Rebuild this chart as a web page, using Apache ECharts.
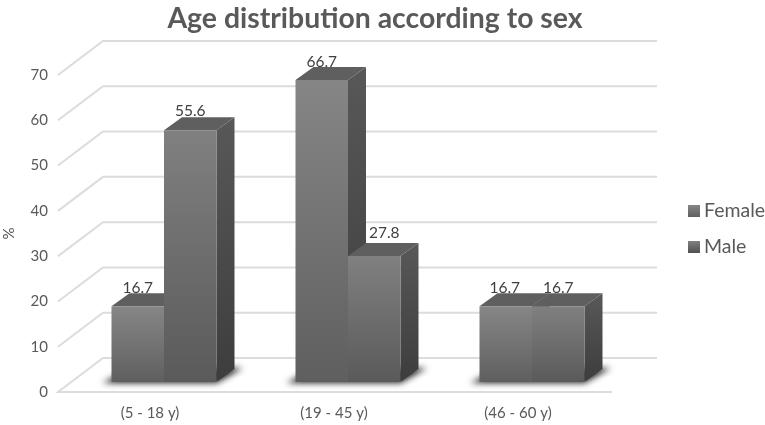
<!DOCTYPE html>
<html><head><meta charset="utf-8">
<style>html,body{margin:0;padding:0;background:#fff}#c{width:765px;height:425px}</style>
<script src="https://cdn.jsdelivr.net/npm/echarts@6/dist/echarts.min.js"></script>
</head><body><div id="c"></div>
<script>
const categories = ['(5 - 18 y)', '(19 - 45 y)', '(46 - 60 y)'];
const female = [16.7, 66.7, 16.7];
const male = [55.6, 27.8, 16.7];
const yTicks = [0, 10, 20, 30, 40, 50, 60, 70];

const WALL_DX = 45, WALL_DY = 34;      // floor depth
const BAR_DX = 14, BAR_DY = 10;        // bar front face inset from the front of the floor
const SIDE_DX = 18, SIDE_DY = 13;      // bar depth
const BAR_W = 52.5;
const FLOOR_EXTRA = 2;                 // floor runs slightly past the last category band
const TEXT = '#595959', FONT = 'Lato';
const OFF = 3000;                      // blurred shadow drawn from an offscreen polygon

const chart = echarts.init(document.getElementById('c'), null, {renderer: 'canvas'});
const grad = (a, b) => new echarts.graphic.LinearGradient(0, 0, 0, 1, [{offset: 0, color: a}, {offset: 1, color: b}]);

function gridItem(params, api) {
  const band = api.size([1, 0])[0];
  const v = api.value(1);
  const p = api.coord([0, v]);
  const x0 = p[0] - band / 2, y = p[1], w = band * categories.length + FLOOR_EXTRA;
  const pts = [[x0, y], [x0 + WALL_DX, y - WALL_DY], [x0 + WALL_DX + w, y - WALL_DY]];
  if (v === 0) pts.unshift([x0 + w, y]);
  return {
    type: 'polyline', silent: true,
    shape: {points: pts},
    style: {stroke: '#dcdcdc', lineWidth: 2, fill: null}
  };
}

function shadowItem(params, api) {
  const p = api.coord([api.value(0), 0]);
  const l = p[0] + BAR_DX - BAR_W, r = p[0] + BAR_DX + BAR_W, b = p[1] - BAR_DY;
  const pts = [[l - 9, b + 1], [r, b + 1], [r + 26, b - 14], [r + 8, b - 14], [l + 8, b - 8]];
  return {
    type: 'polygon', silent: true,
    shape: {points: pts.map(q => [q[0] - OFF, q[1]])},
    style: {fill: '#222', shadowBlur: 6, shadowColor: '#222', shadowOffsetX: OFF}
  };
}

function barItem(side, front, labelLift, labelShift) {
  return function (params, api) {
    const idx = api.value(0), val = api.value(1);
    const p = api.coord([idx, val]), p0 = api.coord([idx, 0]);
    const cx = p[0] + BAR_DX;
    const l = side === 0 ? cx - BAR_W : cx, r = l + BAR_W;
    const t = p[1] - BAR_DY, b = p0[1] - BAR_DY;
    return {
      type: 'group',
      children: [
        {type: 'text', silent: true, style: {
          text: val.toFixed(1), x: (l + r) / 2 + labelShift[idx], y: t - labelLift[idx],
          fill: '#404040', font: '15.5px ' + FONT, textAlign: 'center', textVerticalAlign: 'middle'}},
        {type: 'polygon', shape: {points: [[r, t], [r + SIDE_DX, t - SIDE_DY], [r + SIDE_DX, b - SIDE_DY], [r, b]]},
          style: {fill: grad('#585858', '#3d3d3d')}},
        {type: 'polygon', shape: {points: [[l, t], [l + SIDE_DX, t - SIDE_DY], [r + SIDE_DX, t - SIDE_DY], [r, t]]},
          style: {fill: '#5f5f5f'}},
        {type: 'rect', shape: {x: l, y: t, width: BAR_W, height: b - t},
          style: {fill: grad(front[0], front[1])}}
      ]
    };
  };
}

chart.setOption({
  animation: false,
  backgroundColor: '#fff',
  title: {text: 'Age distribution according to sex', left: 370, top: 0, textAlign: 'center',
    textStyle: {fontFamily: FONT, fontWeight: 'bold', fontSize: 28.4, color: TEXT}},
  legend: {
    orient: 'vertical', left: 683, top: 196, itemGap: 16, itemWidth: 12, itemHeight: 12,
    icon: 'rect', selectedMode: false, data: ['Female', 'Male'],
    textStyle: {fontFamily: FONT, fontSize: 19.5, color: TEXT, padding: [0, 0, 0, -1]}
  },
  grid: {left: 58, top: 75, width: 552, height: 317, outerBoundsMode: 'none'},
  xAxis: {type: 'category', data: categories,
    axisLine: {show: false}, axisTick: {show: false},
    axisLabel: {fontFamily: FONT, fontSize: 15, color: TEXT, margin: 14}},
  yAxis: {type: 'value', min: 0, max: 70, interval: 10, name: '%', nameLocation: 'middle', nameGap: 41, nameRotate: 90,
    nameTextStyle: {fontFamily: FONT, fontSize: 15, color: TEXT},
    axisLine: {show: false}, axisTick: {show: false}, splitLine: {show: false},
    axisLabel: {fontFamily: FONT, fontSize: 15, color: TEXT, margin: 10}},
  series: [
    {type: 'custom', name: 'grid', silent: true, renderItem: gridItem, encode: {x: 0, y: 1},
      data: yTicks.map(v => [0, v]), z: 1},
    {type: 'custom', name: 'shadow', silent: true, renderItem: shadowItem, encode: {x: 0, y: 1},
      data: categories.map((c, i) => [i, 0]), z: 2},
    {type: 'custom', name: 'Female', renderItem: barItem(0, ['#868686', '#5f5f5f'], [18, 18, 18], [0, 0, -1]), encode: {x: 0, y: 1},
      itemStyle: {color: grad('#868686', '#5f5f5f')}, data: female.map((v, i) => [i, v]), z: 3},
    {type: 'custom', name: 'Male', renderItem: barItem(1, ['#808080', '#5a5a5a'], [19, 23, 18], [0, 10, 0]), encode: {x: 0, y: 1},
      itemStyle: {color: grad('#808080', '#505050')}, data: male.map((v, i) => [i, v]), z: 4}
  ]
});
</script></body></html>
